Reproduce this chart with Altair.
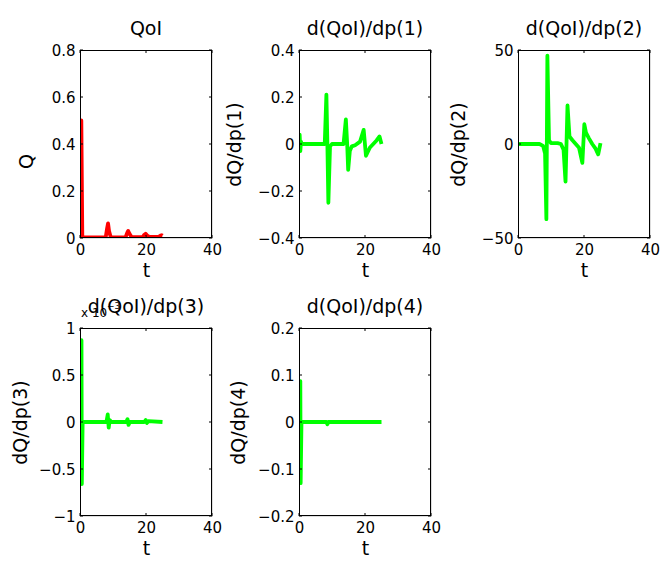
import altair as alt
import pandas as pd

# ---- data ----
t_q = [0, 0.4, 0.7, 7.8, 8.2, 8.5, 8.8, 9.3, 13.8, 14.3, 14.6, 15.0, 15.6,
       19.0, 19.5, 19.9, 20.4, 21.0, 23.8, 24.4, 24.8, 25.0]
q = [0.0, 0.5, 0.004, 0.003, 0.04, 0.062, 0.03, 0.004, 0.003, 0.022, 0.030,
     0.018, 0.004, 0.004, 0.014, 0.018, 0.010, 0.005, 0.005, 0.010, 0.012, 0.010]

t_d1 = [0, 0.2, 0.4, 0.6, 0.9, 7.8, 8.3, 8.6, 8.9, 9.4, 10.0, 13.5, 14.2,
        14.6, 14.9, 15.4, 16.0, 17.0, 18.5, 19.6, 20.3, 20.8, 21.5, 22.5,
        23.5, 24.4, 25.0]
d1 = [0.0, 0.04, -0.03, 0.01, 0.0, 0.0, 0.21, 0.0, -0.25, -0.01, 0.0, 0.0,
      0.105, 0.0, -0.11, -0.03, -0.01, -0.005, 0.01, 0.06, -0.05, -0.035,
      -0.015, 0.0, 0.015, 0.032, 0.0]

t_d2 = [0, 6.5, 7.6, 8.2, 8.6, 8.9, 9.4, 10.0, 12.0, 13.0, 13.8, 14.4, 15.0,
        15.6, 16.5, 17.5, 18.5, 19.5, 20.1, 20.6, 21.5, 22.5, 23.5, 24.3, 25.0]
d2 = [0, 0, -1, -5, -40, 47, 2, 0.5, 0.5, 0, -3, -20, 20.5, 4, 2, 0, -2,
      -10, 10.5, 6, 3, 0, -2.5, -5.5, 0.5]

t_d3 = [0, 0.45, 0.55, 0.8, 8.0, 8.4, 8.7, 9.0, 9.5, 14.0, 14.4, 14.7, 15.1,
        19.5, 19.9, 20.3, 20.7, 25.0]
d3 = [0, 0.87, -0.66, 0.0, 0.0, 0.08, -0.06, 0.02, 0.0, 0.0, 0.03, -0.03,
      0.0, 0.0, 0.02, -0.01, 0.01, 0.0]   # in units of 1e-3

t_d4 = [0, 0.4, 0.5, 0.75, 8.3, 8.6, 8.9, 25.0]
d4 = [0, 0.087, -0.13, 0.0, 0.0, -0.005, 0.0, 0.0]

x_ticks = [0, 20, 40]
y_ticks_q = [0, 0.2, 0.4, 0.6, 0.8]
y_ticks_d1 = [-0.4, -0.2, 0, 0.2, 0.4]
y_ticks_d2 = [-50, 0, 50]
y_ticks_d3 = [-1, -0.5, 0, 0.5, 1]
y_ticks_d4 = [-0.2, -0.1, 0, 0.1, 0.2]

titles = ["QoI", "d(QoI)/dp(1)", "d(QoI)/dp(2)", "d(QoI)/dp(3)", "d(QoI)/dp(4)"]
ylabels = ["Q", "dQ/dp(1)", "dQ/dp(2)", "dQ/dp(3)", "dQ/dp(4)"]

W, H = 132, 188
FONT = "DejaVu Sans"
RED = "#ff0000"
GREEN = "#00ff00"
TL = 3  # inward tick length


def txt(s, size, x, y, align="left"):
    return alt.Chart(pd.DataFrame({"s": [s]})).mark_text(
        font=FONT, fontSize=size, align=align, baseline="alphabetic",
        color="black").encode(text="s:N", x=alt.value(x), y=alt.value(y))


def frame_rule(**enc):
    return alt.Chart(pd.DataFrame({"k": [0]})).mark_rule(
        color="black", strokeWidth=1).encode(**{k: alt.value(v) for k, v in enc.items()})


def panel(t, v, color, title, ylabel, yticks, ytx, yty=None, exponent=False):
    df = pd.DataFrame({"t": t, "v": v})
    xs = alt.Scale(domain=[0, 40], nice=False, zero=False)
    ys = alt.Scale(domain=[yticks[0], yticks[-1]], nice=False, zero=False)
    yaxis_kw = dict(values=yticks, format="~r", title=ylabel, ticks=False,
                    domain=False, grid=False, labelPadding=5, labelFontSize=15,
                    labelFont=FONT, labelColor="black", labelFlush=False,
                    labelOverlap=False, titleFont=FONT, titleFontSize=19,
                    titleFontWeight="normal", titleColor="black",
                    titleBaseline="middle", titleX=ytx)
    if yty is not None:
        yaxis_kw["titleY"] = yty
    xax = alt.Axis(values=x_ticks, format="~r", title="t", ticks=False,
                   domain=False, grid=False, labelPadding=4, labelFontSize=15,
                   labelFont=FONT, labelColor="black", labelFlush=False,
                   labelOverlap=False, titleFont=FONT, titleFontSize=19,
                   titleFontWeight="normal", titleColor="black", titlePadding=4)
    yax = alt.Axis(**yaxis_kw)
    X = alt.X("t:Q", scale=xs, axis=xax)
    Y = alt.Y("v:Q", scale=ys, axis=yax)
    line = alt.Chart(df).mark_line(color=color, strokeWidth=3.8,
                                   strokeJoin="round", clip=True).encode(x=X, y=Y)
    xt = pd.DataFrame({"t": x_ticks})
    yt = pd.DataFrame({"v": yticks})
    tb = alt.Chart(xt).mark_rule(color="black", strokeWidth=1).encode(
        x=X, y=alt.value(H), y2=alt.value(H - TL))
    tt = alt.Chart(xt).mark_rule(color="black", strokeWidth=1).encode(
        x=X, y=alt.value(0), y2=alt.value(TL))
    tl = alt.Chart(yt).mark_rule(color="black", strokeWidth=1).encode(
        y=Y, x=alt.value(0), x2=alt.value(TL))
    tr = alt.Chart(yt).mark_rule(color="black", strokeWidth=1).encode(
        y=Y, x=alt.value(W), x2=alt.value(W - TL))
    box = [
        frame_rule(x=0, x2=W, y=0.5),
        frame_rule(x=0, x2=W, y=H - 0.5),
        frame_rule(x=0.5, y=0, y2=H),
        frame_rule(x=W - 0.5, y=0, y2=H),
    ]
    layers = [line, tb, tt, tl, tr] + box + [txt(title, 19, W / 2, -15, "center")]
    if exponent:
        layers += [txt("x 10", 12, 1, -11), txt("\u22123", 9, 27, -19)]
    return alt.layer(*layers).properties(width=W, height=H)


p1 = panel(t_q, q, RED, titles[0], ylabels[0], y_ticks_q, -54, yty=111)
p2 = panel(t_d1, d1, GREEN, titles[1], ylabels[1], y_ticks_d1, -65)
p3 = panel(t_d2, d2, GREEN, titles[2], ylabels[2], y_ticks_d2, -60)
p4 = panel(t_d3, d3, GREEN, titles[3], ylabels[3], y_ticks_d3, -60, exponent=True)
p5 = panel(t_d4, d4, GREEN, titles[4], ylabels[4], y_ticks_d4, -61)

chart = alt.concat(
    p1, p2, p3, p4, p5, columns=3,
    spacing=alt.RowColnumber(row=90, column=87), bounds="flush",
).resolve_scale(x="independent", y="independent").properties(
    autosize=alt.AutoSizeParams(type="none"),
    padding={"left": 72, "top": 42, "right": 581, "bottom": 513},
).configure_view(stroke=None).configure(background="white")

chart.save("out.html", embed_options={"renderer": "svg", "actions": False})
